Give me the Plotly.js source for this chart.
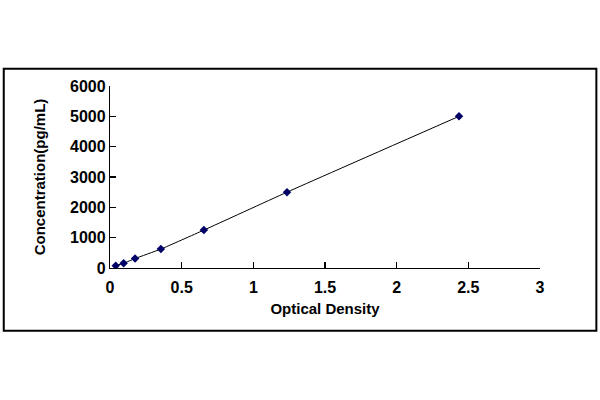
<!DOCTYPE html>
<html>
<head>
<meta charset="utf-8">
<script src="https://cdn.plot.ly/plotly-3.0.1.min.js"></script>
<style>html,body{margin:0;padding:0;background:#fff;}#chart{width:600px;height:400px;}</style>
</head>
<body>
<div id="chart"></div>
<script>
const opticalDensity = [0.04, 0.095, 0.175, 0.355, 0.655, 1.235, 2.435];
const concentration = [78, 156, 312, 625, 1250, 2500, 5000];
const xTickVals = [0, 0.5, 1, 1.5, 2, 2.5, 3];
const xTickText = ['0', '0.5', '1', '1.5', '2', '2.5', '3'];
const yTickVals = [0, 1000, 2000, 3000, 4000, 5000, 6000];
const yTickText = ['0', '1000', '2000', '3000', '4000', '5000', '6000'];

const W = 600, H = 400;
const m = {l: 109.5, r: 59.5, t: 86.3, b: 131.7};
const pw = W - m.l - m.r, ph = H - m.t - m.b;
function px2x(p){ return (p - m.l) / pw; }
function py2y(p){ return (H - m.b - p) / ph; }

const font = 'Liberation Sans, Arial, sans-serif';

const trace = {
  x: opticalDensity,
  y: concentration,
  type: 'scatter',
  mode: 'lines+markers',
  line: {color: '#000000', width: 1, shape: 'spline', smoothing: 0.5},
  marker: {symbol: 'diamond', size: 6.5, color: '#000066'},
  hoverinfo: 'skip'
};

const layout = {
  width: W, height: H,
  margin: m,
  paper_bgcolor: '#ffffff',
  plot_bgcolor: '#ffffff',
  showlegend: false,
  font: {family: font, color: '#000000'},
  xaxis: {
    range: [0, 3],
    tickvals: xTickVals, ticktext: xTickText,
    ticks: 'inside', ticklen: 6, tickwidth: 1.2, tickcolor: '#000',
    showline: true, linecolor: '#000', linewidth: 1.2,
    showgrid: false, zeroline: false,
    ticklabelstandoff: 5,
    tickfont: {family: font, size: 16, color: '#000', weight: 'bold'},
    title: {text: '<b>Optical Density</b>', font: {family: font, size: 15, color: '#000'}, standoff: 8}
  },
  yaxis: {
    range: [0, 6000],
    tickvals: yTickVals, ticktext: yTickText,
    ticks: 'inside', ticklen: 6, tickwidth: 1.2, tickcolor: '#000',
    showline: true, linecolor: '#000', linewidth: 1.2,
    showgrid: false, zeroline: false,
    tickfont: {family: font, size: 16, color: '#000', weight: 'bold'},
    title: {text: '<b>Concentration(pg/mL)</b>', font: {family: font, size: 15, color: '#000'}, standoff: 20}
  },
  shapes: [{
    type: 'rect', xref: 'paper', yref: 'paper',
    x0: px2x(3), x1: px2x(597), y0: py2y(331), y1: py2y(69),
    line: {color: '#000', width: 2}, fillcolor: 'rgba(0,0,0,0)', layer: 'below'
  }]
};

Plotly.newPlot('chart', [trace], layout, {staticPlot: true, displayModeBar: false});
</script>
</body>
</html>
